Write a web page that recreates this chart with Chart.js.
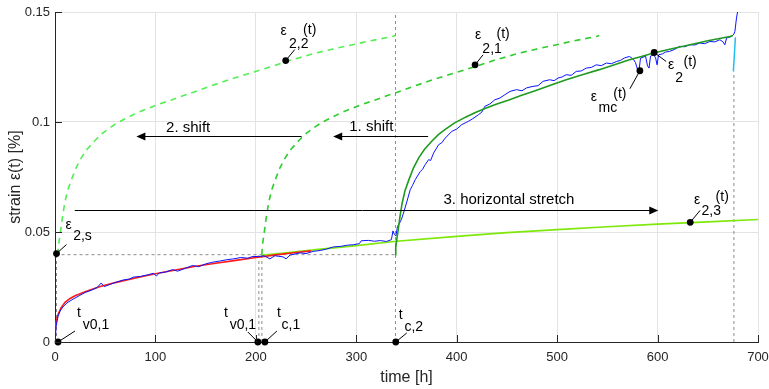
<!DOCTYPE html>
<html>
<head>
<meta charset="utf-8">
<script src="https://cdn.jsdelivr.net/npm/chart.js@4.4.1/dist/chart.umd.min.js"></script>
<style>
  html, body { margin: 0; padding: 0; background: #fff; }
</style>
</head>
<body>
<canvas id="myChart" width="769" height="389"></canvas>
<script>
// axis ticks
const xTicks = [0, 100, 200, 300, 400, 500, 600, 700];
const xTickLabels = ['0', '100', '200', '300', '400', '500', '600', '700'];
const yTicks = [0, 0.05, 0.1, 0.15];
const yTickLabels = ['0', '0.05', '0.1', '0.15'];

// measured strain eps_mc(t)
const tMeas = [0.5, 1, 3, 5, 8, 12, 18, 24, 30, 36, 42, 46, 49, 55, 61, 68, 74, 78, 85, 92, 98, 101, 104, 110, 117, 122, 128, 137, 143, 150, 156, 164, 171, 178, 185, 192, 197, 203, 208, 214, 219, 227, 230, 234, 244, 250, 257, 264, 270, 277, 285, 291, 297, 303, 305, 312, 318, 324, 330, 335, 336.5, 338, 339.5, 341, 343, 345, 347, 350, 353.7, 356, 358.7, 363.7, 366, 368.6, 372, 374, 377, 382, 385, 388.6, 395, 400, 405, 411.6, 416, 421.6, 425, 428, 433, 438, 443, 448, 453, 459.6, 465, 469.5, 476, 481, 486, 492.5, 497, 501, 505, 509, 514, 519, 524, 529, 534, 539, 544, 549, 554, 559, 563, 567, 572, 576, 578, 580, 581.5, 583, 586, 588, 590, 591.5, 593, 596, 598, 599.5, 601, 605, 608, 612, 617, 622, 627, 632, 637, 642, 647, 652, 657, 662, 665, 667, 668.7, 673.7, 676, 677, 678.6, 680];
const vMeas = [0.002, 0.007, 0.0116, 0.014, 0.016, 0.0178, 0.0195, 0.021, 0.0225, 0.0235, 0.0248, 0.0268, 0.0252, 0.0262, 0.0272, 0.0282, 0.0286, 0.0295, 0.0298, 0.0305, 0.0312, 0.0300, 0.0314, 0.0318, 0.0329, 0.0322, 0.0332, 0.0348, 0.0342, 0.0355, 0.0362, 0.0368, 0.0374, 0.0378, 0.0384, 0.0381, 0.0389, 0.0388, 0.0392, 0.0378, 0.0392, 0.0387, 0.0378, 0.0395, 0.0405, 0.0402, 0.0412, 0.0416, 0.0422, 0.0432, 0.0435, 0.0440, 0.0442, 0.0447, 0.0460, 0.0462, 0.0458, 0.0461, 0.0457, 0.0465, 0.0505, 0.0488, 0.0482, 0.0525, 0.0540, 0.0558, 0.0586, 0.0632, 0.0692, 0.0712, 0.0738, 0.0775, 0.0785, 0.0806, 0.0829, 0.0825, 0.0859, 0.0897, 0.0905, 0.0927, 0.0957, 0.0968, 0.0988, 0.1003, 0.1015, 0.1033, 0.1045, 0.1071, 0.1082, 0.1101, 0.1109, 0.1124, 0.1139, 0.1147, 0.1142, 0.1155, 0.1162, 0.1165, 0.1185, 0.1192, 0.1188, 0.1200, 0.1205, 0.1215, 0.1212, 0.1230, 0.1232, 0.1245, 0.1248, 0.1260, 0.1256, 0.1268, 0.1265, 0.1275, 0.1280, 0.1291, 0.1298, 0.1285, 0.1270, 0.1240, 0.1233, 0.1290, 0.1295, 0.1300, 0.1255, 0.1245, 0.1300, 0.1305, 0.1292, 0.1260, 0.1305, 0.1310, 0.1318, 0.1321, 0.1330, 0.1344, 0.1342, 0.1351, 0.1350, 0.1359, 0.1356, 0.1366, 0.1364, 0.1374, 0.1365, 0.1351, 0.1382, 0.1389, 0.1400, 0.1412, 0.1473, 0.1510];

// fit of first stage (red)
const tFit1 = [0, 1, 3, 6, 10, 15, 20, 30, 45, 60, 80, 100, 120, 140, 160, 180, 200, 220, 240, 255];
const vFit1 = [0.004, 0.009, 0.0125, 0.0155, 0.018, 0.0198, 0.021, 0.0228, 0.0252, 0.027, 0.0291, 0.031, 0.0327, 0.0344, 0.0358, 0.0371, 0.0384, 0.0396, 0.0407, 0.0414];

// eps_2(t), second stage (dark green)
const tEps2 = [339, 339.3, 340, 341.7, 343.5, 345.7, 348.5, 352.4, 357, 362.3, 368, 375.6, 382, 388.9, 398, 408.8, 418, 428.7, 440, 452, 464, 476, 492, 509, 525, 542, 557, 572, 584, 596, 612, 629, 650, 672, 675];
const vEps2 = [0.0397, 0.043, 0.0455, 0.051, 0.057, 0.0632, 0.0688, 0.0738, 0.0792, 0.0838, 0.0876, 0.0915, 0.0944, 0.0968, 0.0996, 0.1022, 0.1042, 0.1062, 0.1082, 0.1100, 0.1120, 0.1139, 0.1165, 0.1192, 0.1215, 0.1238, 0.1260, 0.1283, 0.1298, 0.1314, 0.1331, 0.1348, 0.1369, 0.1389, 0.1393];

// eps_2,1(t) after 1. shift (dashed)
const tEps21 = [206, 206.3, 207, 208.7, 210.5, 212.7, 215.5, 219.4, 224, 229.3, 235, 242.6, 249, 255.9, 265, 275.8, 285, 295.7, 307, 319, 331, 343, 359, 376, 392, 409, 424, 439, 451, 463, 479, 496, 517, 539, 542];
const vEps21 = [0.0397, 0.043, 0.0455, 0.051, 0.057, 0.0632, 0.0688, 0.0738, 0.0792, 0.0838, 0.0876, 0.0915, 0.0944, 0.0968, 0.0996, 0.1022, 0.1042, 0.1062, 0.1082, 0.1100, 0.1120, 0.1139, 0.1165, 0.1192, 0.1215, 0.1238, 0.1260, 0.1283, 0.1298, 0.1314, 0.1331, 0.1348, 0.1369, 0.1389, 0.1393];

// eps_2,2(t) after 2. shift (dashed, light)
const tEps22 = [3, 3.3, 4, 5.7, 7.5, 9.7, 12.5, 16.4, 21, 26.3, 32, 39.6, 46, 52.9, 62, 72.8, 82, 92.7, 104, 116, 128, 140, 156, 173, 189, 206, 221, 236, 248, 260, 276, 293, 314, 336, 339];
const vEps22 = [0.0397, 0.043, 0.0455, 0.051, 0.057, 0.0632, 0.0688, 0.0738, 0.0792, 0.0838, 0.0876, 0.0915, 0.0944, 0.0968, 0.0996, 0.1022, 0.1042, 0.1062, 0.1082, 0.1100, 0.1120, 0.1139, 0.1165, 0.1192, 0.1215, 0.1238, 0.1260, 0.1283, 0.1298, 0.1314, 0.1331, 0.1348, 0.1369, 0.1389, 0.1393];

// eps_2,3(t) after horizontal stretch (light green)
const tEps23 = [205, 230, 260, 300, 340, 400, 450, 500, 550, 600, 650, 700];
const vEps23 = [0.0394, 0.0405, 0.042, 0.0438, 0.0458, 0.0480, 0.0497, 0.0511, 0.0524, 0.0536, 0.0546, 0.0557];

// short cyan piece at the end
const tCyan = [675.5, 677.5];
const vCyan = [0.123, 0.1385];

// gray dashed guides [t1, v1, t2, v2]
const guides = [
  [0.5, 0.0397, 341, 0.0397],
  [1.5, 0, 1.5, 0.0397],
  [203, 0, 203, 0.0397],
  [206, 0, 206, 0.0397],
  [339, 0, 339, 0.15],
  [676, 0, 676, 0.123]
];

// marked points
const markT = [1.5, 3, 202, 209, 339.3, 229.7, 418.3, 596.6, 582.4, 632.5];
const markV = [0.0402, 0, 0, 0, 0, 0.1279, 0.126, 0.1316, 0.1233, 0.0544];

// labels next to marked points: leader end offset and text pieces [text, dx, dy] in px
const markLabels = [
  { lead: [10, -9], parts: [['ε', 12, -28], ['2,s', 26, -17]] },
  { lead: [17, -11], parts: [['t', 21, -29], ['v0,1', 38, -17]] },
  { lead: [-10, -10], parts: [['t', -32, -29], ['v0,1', -15, -17]] },
  { lead: [12, -11], parts: [['t', 14, -29], ['c,1', 26, -17]] },
  { lead: [11, -9], parts: [['t', 5, -27], ['c,2', 18, -15]] },
  { lead: [9, -11], parts: [['ε', -2, -29], ['2,2', 13, -16], ['(t)', 24, -30]] },
  { lead: [8, -10], parts: [['ε', 3, -30], ['2,1', 17, -16], ['(t)', 28, -31]] },
  { lead: [12, 9], parts: [['ε', 17, 13], ['2', 25, 26], ['(t)', 36, 10]] },
  { lead: [-10, 18], parts: [['ε', -46, 26], ['mc', -32, 37], ['(t)', -20, 23]] },
  { lead: [10, -12], parts: [['ε', 7, -22], ['2,3', 21, -11], ['(t)', 32, -25]] }
];

// arrows with captions
const arrows = [
  { from: [245.5, 0.0935], to: [81, 0.0935], text: '2. shift', at: [132.6, 0.0974] },
  { from: [371.5, 0.0935], to: [277, 0.0935], text: '1. shift', at: [315, 0.0976] },
  { from: [19.7, 0.0601], to: [600.7, 0.0601], text: '3. horizontal stretch', at: [452, 0.0647] }
];

const pts = (ts, vs) => ts.map((t, i) => ({ x: t, y: vs[i] }));
const FONT = '"Liberation Sans", Arial, sans-serif';

const lineSet = (data, color, width, dash) => ({
  data, borderColor: color, borderWidth: width, borderDash: dash || [],
  showLine: true, pointRadius: 0, fill: false, tension: 0
});

const datasets = [
  { data: pts(markT, markV), showLine: false, pointRadius: 3.4, pointBackgroundColor: '#000', pointBorderWidth: 0, clip: false },
  lineSet(pts(tCyan, vCyan), '#22bfee', 1.5),
  lineSet(pts(tEps2, vEps2), '#1f9a1f', 1.6),
  lineSet(pts(tMeas, vMeas), '#0a14ff', 1),
  lineSet(pts(tFit1, vFit1), '#ff1a1a', 1.6),
  lineSet(pts(tEps23, vEps23), '#7ee80a', 1.6),
  lineSet(pts(tEps21, vEps21), '#2ecc2e', 1.6, [6, 5]),
  lineSet(pts(tEps22, vEps22), '#55ee55', 1.6, [6, 5])
];
guides.forEach(g => datasets.push(lineSet([{ x: g[0], y: g[1] }, { x: g[2], y: g[3] }], '#8c8c8c', 1, [3, 3])));

const annotate = {
  id: 'annotate',
  afterDatasetsDraw(chart) {
    const { ctx, chartArea: a } = chart;
    const x = chart.scales.x, y = chart.scales.y;
    ctx.save();
    // inward tick marks
    ctx.strokeStyle = '#262626';
    ctx.lineWidth = 1;
    ctx.beginPath();
    xTicks.forEach(t => {
      const px = Math.round(x.getPixelForValue(t)) + 0.5;
      ctx.moveTo(px, a.bottom); ctx.lineTo(px, a.bottom - 7);
    });
    yTicks.forEach(v => {
      const py = Math.round(y.getPixelForValue(v)) + 0.5;
      ctx.moveTo(a.left, py); ctx.lineTo(a.left + 7, py);
    });
    ctx.stroke();

    // arrows
    ctx.strokeStyle = '#000';
    ctx.fillStyle = '#000';
    ctx.textAlign = 'center';
    ctx.textBaseline = 'middle';
    arrows.forEach(ar => {
      const x1 = x.getPixelForValue(ar.from[0]), y1 = Math.round(y.getPixelForValue(ar.from[1])) + 0.5;
      const x2 = x.getPixelForValue(ar.to[0]);
      const dir = Math.sign(x2 - x1);
      ctx.beginPath();
      ctx.moveTo(x1, y1); ctx.lineTo(x2 - dir * 8, y1);
      ctx.stroke();
      ctx.beginPath();
      ctx.moveTo(x2, y1);
      ctx.lineTo(x2 - dir * 9, y1 - 4);
      ctx.lineTo(x2 - dir * 9, y1 + 4);
      ctx.closePath();
      ctx.fill();
      ctx.font = '15px ' + FONT;
      ctx.fillText(ar.text, x.getPixelForValue(ar.at[0]), y.getPixelForValue(ar.at[1]));
    });

    // leaders and labels
    ctx.font = '14px ' + FONT;
    markLabels.forEach((lb, i) => {
      const px = x.getPixelForValue(markT[i]), py = y.getPixelForValue(markV[i]);
      ctx.beginPath();
      ctx.moveTo(px, py); ctx.lineTo(px + lb.lead[0], py + lb.lead[1]);
      ctx.stroke();
      lb.parts.forEach(p => ctx.fillText(p[0], px + p[1], py + p[2]));
    });
    ctx.restore();
  }
};

new Chart(document.getElementById('myChart').getContext('2d'), {
  type: 'scatter',
  data: { datasets },
  options: {
    responsive: false,
    animation: false,
    layout: { padding: { top: 12, right: 11, left: 0, bottom: 0 } },
    plugins: { legend: { display: false }, tooltip: { enabled: false } },
    scales: {
      x: {
        type: 'linear', min: 0, max: 700,
        afterBuildTicks: s => { s.ticks = xTicks.map(v => ({ value: v })); },
        afterFit: s => { s.height = 47; s.paddingLeft = 0; s.paddingRight = 0; },
        ticks: { callback: (v, i) => xTickLabels[i], color: '#262626', font: { family: FONT, size: 13 }, padding: 8, maxRotation: 0 },
        grid: { color: '#e3e3e3', drawTicks: false },
        border: { color: '#262626', width: 1 },
        title: { display: true, text: 'time [h]', color: '#262626', font: { family: FONT, size: 16 }, padding: { top: 0, bottom: 2 } }
      },
      y: {
        type: 'linear', min: 0, max: 0.15,
        afterBuildTicks: s => { s.ticks = yTicks.map(v => ({ value: v })); },
        afterFit: s => { s.width = 55; s.paddingTop = 0; s.paddingBottom = 0; },
        ticks: { callback: (v, i) => yTickLabels[i], color: '#262626', font: { family: FONT, size: 13 }, padding: 5 },
        grid: { color: '#e3e3e3', drawTicks: false },
        border: { color: '#262626', width: 1 },
        title: { display: true, text: 'strain ε(t) [%]', color: '#262626', font: { family: FONT, size: 16 }, padding: { top: 6, bottom: 0 } }
      }
    }
  },
  plugins: [annotate]
});
</script>
</body>
</html>
